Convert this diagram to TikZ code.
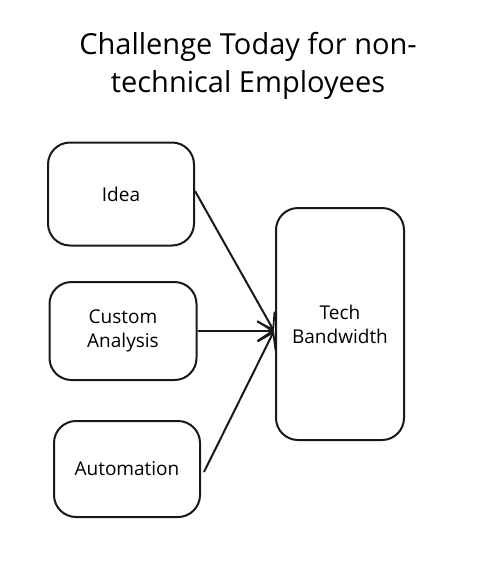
\documentclass[tikz,border=0pt]{standalone}
\usepackage{fontspec}
\setmainfont{Open Sans}
\usetikzlibrary{arrows.meta}
\begin{document}
\begin{tikzpicture}[x=1pt,y=-1pt,
  box/.style={draw=black!90, line width=2pt, rounded corners=22pt, fill=white, align=center, font=\fontsize{19}{24}\selectfont, inner sep=0pt},
  conn/.style={line width=2pt, draw=black!90, -{Straight Barb[length=15pt,width=20pt,line width=1.8pt]}},
  title/.style={align=center, font=\fontsize{29}{38}\selectfont}]
\useasboundingbox (0,0) rectangle (496,576);
\node[title] (title) at (248,66) {Challenge Today for non-\\technical Employees};
\node[box, minimum width=146pt, minimum height=103pt] (idea) at (121,194) {Idea};
\node[box, minimum width=147pt, minimum height=98pt] (custom) at (123,331) {Custom\\Analysis};
\node[box, minimum width=146pt, minimum height=96pt] (auto) at (127,469) {Automation};
\node[box, minimum width=128pt, minimum height=232pt] (tech) at (340,324) {Tech\\Bandwidth};
\coordinate (tip) at (274,331);
\draw[conn] (idea.east) ++(0,-3) -- (tip);
\draw[conn] (custom.east) -- (tip);
\draw[conn] (auto.east) ++(3,3) -- (tip);
\end{tikzpicture}
\end{document}
